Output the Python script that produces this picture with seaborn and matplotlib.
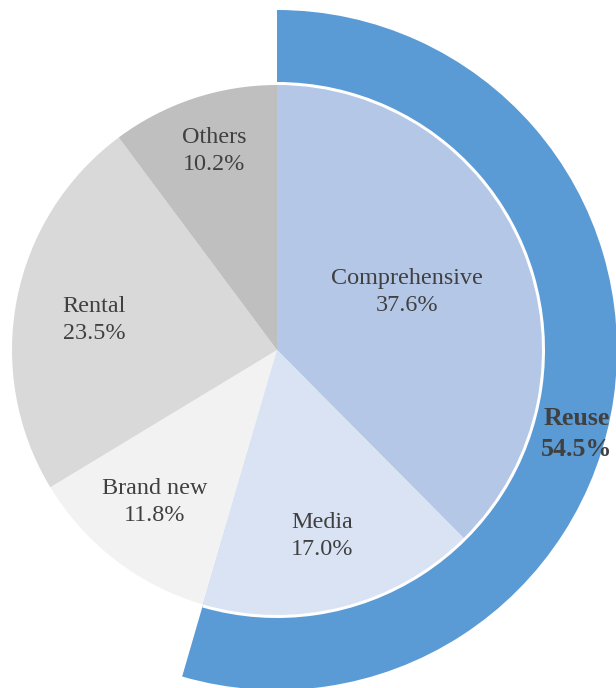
import matplotlib
matplotlib.use("Agg")
import matplotlib.pyplot as plt
import seaborn as sns

# Market share by segment
categories = ["Comprehensive", "Media", "Brand new", "Rental", "Others"]
shares = [37.6, 17.0, 11.8, 23.5, 10.2]
colors = ["#B4C7E7", "#DAE3F3", "#F2F2F2", "#D9D9D9", "#BFBFBF"]

# Outer ring: reuse group (Comprehensive + Media)
group_label = "Reuse"
group_share = 54.5
group_color = "#5B9BD5"

# Label anchor offsets from the pie centre (in pixel-sized data units)
label_offsets = [(130, 58), (45, -186), (-122, -152), (-183, 30), (-63, 199)]
group_label_offset = (300, -84)

sns.set_theme(style="white")
plt.rcParams["font.family"] = ["Liberation Serif", "DejaVu Serif"]

fig = plt.figure(figsize=(6.16, 6.88), dpi=100)
ax = fig.add_axes([0, 0, 1, 1])

inner_r = 265
outer_r = 340

# Outer reuse ring drawn as a wedge behind the pie
ring, _ = ax.pie([group_share, 100 - group_share], radius=outer_r, startangle=90,
                 counterclock=False, colors=[group_color, "none"],
                 wedgeprops=dict(linewidth=0))
ring[1].set_visible(False)

# Thin white gap between ring and pie
gap, _ = ax.pie([group_share, 100 - group_share], radius=inner_r + 3, startangle=90,
                counterclock=False, colors=["white", "none"],
                wedgeprops=dict(linewidth=0))
gap[1].set_visible(False)

wedges, _ = ax.pie(shares, radius=inner_r, startangle=90, counterclock=False,
                   colors=colors, wedgeprops=dict(linewidth=0))

text_color = "#404040"
for name, val, (dx, dy) in zip(categories, shares, label_offsets):
    ax.text(dx, dy, f"{name}\n{val:.1f}%", ha="center", va="center",
            fontsize=17.4, color=text_color, linespacing=1.38)

ax.text(group_label_offset[0], group_label_offset[1],
        f"{group_label}\n{group_share:.1f}%", ha="center", va="center",
        fontsize=18.7, fontweight="bold", color=text_color, linespacing=1.4)

ax.set_xlim(-277, 616 - 277)
ax.set_ylim(-(688 - 350), 350)
ax.set_aspect("equal")
ax.axis("off")

fig.savefig("out.png", dpi=100)
